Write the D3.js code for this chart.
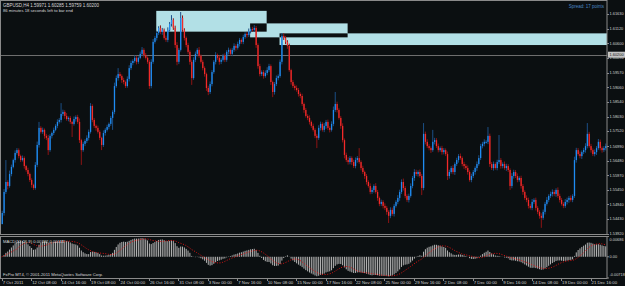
<!DOCTYPE html>
<html>
<head>
<meta charset="utf-8">
<script src="https://cdn.jsdelivr.net/npm/d3@7"></script>
<style>
  body { margin: 0; background: #0b0f11; }
  svg { display: block; }
  text { font-family: "Liberation Sans", Arial, sans-serif; }
</style>
</head>
<body>
<svg id="chart"></svg>
<script>
const W = 625, H = 286;

// GBPUSD H4 closes
const closes = [
  1.5464, 1.5538, 1.5573, 1.5559, 1.5601, 1.5626, 1.5650, 1.5675, 1.5685, 1.5664,
  1.5650, 1.5657, 1.5629, 1.5615, 1.5601, 1.5580, 1.5563, 1.5552, 1.5633, 1.5703,
  1.5763, 1.5749, 1.5756, 1.5735, 1.5728, 1.5685, 1.5735, 1.5745, 1.5756, 1.5770,
  1.5784, 1.5791, 1.5812, 1.5819, 1.5805, 1.5794, 1.5798, 1.5784, 1.5777, 1.5794,
  1.5801, 1.5784, 1.5720, 1.5685, 1.5707, 1.5717, 1.5728, 1.5749, 1.5840, 1.5791,
  1.5770, 1.5763, 1.5749, 1.5728, 1.5703, 1.5745, 1.5756, 1.5766, 1.5777, 1.5798,
  1.5819, 1.5910, 1.5938, 1.5952, 1.5945, 1.5931, 1.5924, 1.5910, 1.5935, 1.5973,
  1.5991, 1.5998, 1.6009, 1.5995, 1.6009, 1.6023, 1.6037, 1.6019, 1.6009, 1.5995,
  1.5910, 1.5995, 1.6065, 1.6079, 1.6096, 1.6114, 1.6100, 1.6107, 1.6079, 1.6072,
  1.6107, 1.6128, 1.6142, 1.6114, 1.6054, 1.5995, 1.6037, 1.6149, 1.6107, 1.6079,
  1.6054, 1.6030, 1.5995, 1.5938, 1.6002, 1.6023, 1.6037, 1.6016, 1.5995, 1.5973,
  1.5952, 1.5903, 1.5889, 1.5917, 1.5959, 1.5995, 1.6019, 1.6009, 1.5995, 1.6002,
  1.6016, 1.6002, 1.6030, 1.6037, 1.6023, 1.6037, 1.6051, 1.6044, 1.6058, 1.6072,
  1.6065, 1.6082, 1.6093, 1.6089, 1.6103, 1.6110, 1.6107, 1.6114, 1.6054, 1.5980,
  1.5952, 1.5959, 1.5945, 1.5956, 1.5966, 1.5980, 1.5924, 1.5889, 1.5917, 1.5938,
  1.5945, 1.5995, 1.6086, 1.6079, 1.6065, 1.6051, 1.5966, 1.5924, 1.5910, 1.5903,
  1.5896, 1.5882, 1.5875, 1.5847, 1.5826, 1.5805, 1.5798, 1.5784, 1.5770, 1.5756,
  1.5735, 1.5728, 1.5763, 1.5777, 1.5756, 1.5770, 1.5784, 1.5763, 1.5756, 1.5777,
  1.5826, 1.5847, 1.5826, 1.5798, 1.5770, 1.5720, 1.5668, 1.5650, 1.5643, 1.5657,
  1.5643, 1.5629, 1.5650, 1.5657, 1.5643, 1.5622, 1.5608, 1.5594, 1.5573, 1.5559,
  1.5538, 1.5545, 1.5559, 1.5538, 1.5517, 1.5496, 1.5503, 1.5489, 1.5482, 1.5468,
  1.5454, 1.5475, 1.5461, 1.5489, 1.5503, 1.5517, 1.5538, 1.5573, 1.5552, 1.5524,
  1.5510, 1.5524, 1.5559, 1.5587, 1.5608, 1.5601, 1.5608, 1.5594, 1.5552, 1.5742,
  1.5714, 1.5699, 1.5692, 1.5685, 1.5714, 1.5720, 1.5699, 1.5685, 1.5692, 1.5678,
  1.5685, 1.5671, 1.5594, 1.5608, 1.5622, 1.5608, 1.5636, 1.5650, 1.5664, 1.5657,
  1.5636, 1.5629, 1.5622, 1.5608, 1.5580, 1.5594, 1.5608, 1.5622, 1.5636, 1.5657,
  1.5699, 1.5707, 1.5714, 1.5714, 1.5735, 1.5636, 1.5622, 1.5636, 1.5622, 1.5643,
  1.5650, 1.5629, 1.5636, 1.5622, 1.5629, 1.5615, 1.5559, 1.5594, 1.5608, 1.5594,
  1.5580, 1.5587, 1.5559, 1.5538, 1.5517, 1.5510, 1.5489, 1.5482, 1.5503, 1.5510,
  1.5482, 1.5468, 1.5454, 1.5447, 1.5468, 1.5496, 1.5510, 1.5524, 1.5531, 1.5538,
  1.5531, 1.5545, 1.5524, 1.5510, 1.5496, 1.5489, 1.5503, 1.5510, 1.5517, 1.5510,
  1.5524, 1.5650, 1.5685, 1.5671, 1.5664, 1.5678, 1.5685, 1.5699, 1.5742, 1.5699,
  1.5685, 1.5671, 1.5678, 1.5692, 1.5714, 1.5692, 1.5685, 1.5692, 1.5699
];
const firstOpen = 1.5425;

// wick lengths above / below the body, in pips
const hiWick = [
  8, 10, 77, 6, 12, 8, 5, 9, 7, 6,   5, 9, 6, 4, 8, 5, 6, 4, 10, 12,
  21, 6, 8, 5, 7, 10, 6, 5, 8, 6,    9, 7, 38, 8, 6, 10, 5, 7, 4, 9,
  6, 8, 12, 5, 7, 6, 9, 8, 10, 6,    7, 5, 8, 6, 4, 9, 6, 8, 5, 7,
  6, 12, 9, 21, 7, 6, 8, 5, 9, 10,   8, 6, 9, 7, 5, 8, 10, 6, 7, 5,
  6, 9, 10, 7, 8, 6, 9, 7, 5, 8,     9, 7, 17, 6, 8, 10, 7, 21, 9, 6,
  5, 8, 6, 7, 9, 8, 6, 10, 5, 7,     6, 5, 8, 9, 7, 6, 10, 5, 8, 6,
  7, 9, 6, 8, 5, 7, 9, 6, 8, 7,      5, 8, 6, 7, 9, 6, 8, 10, 7, 6,
  8, 6, 7, 9, 10, 8, 6, 5, 7, 9,     6, 8, 10, 9, 7, 6, 8, 5, 7, 6,
  9, 7, 6, 8, 5, 7, 6, 9, 5, 8,      6, 7, 9, 8, 6, 10, 7, 8, 6, 9,
  12, 42, 8, 6, 7, 9, 6, 8, 10, 7,   6, 8, 9, 7, 35, 6, 8, 5, 7, 6,
  9, 8, 6, 10, 7, 5, 8, 6, 9, 7,     6, 9, 8, 7, 6, 10, 8, 9, 12, 7,
  6, 8, 9, 7, 10, 8, 6, 9, 7, 38,    8, 9, 7, 6, 42, 8, 7, 9, 6, 8,
  7, 6, 9, 8, 7, 10, 6, 8, 7, 9,     6, 8, 7, 9, 6, 8, 7, 6, 9, 10,
  8, 7, 9, 6, 31, 8, 7, 9, 6, 8,     88, 7, 6, 9, 8, 7, 6, 10, 8, 7,
  9, 6, 8, 7, 6, 9, 8, 7, 10, 6,     8, 7, 6, 9, 8, 7, 10, 6, 8, 9,
  7, 6, 9, 8, 7, 6, 10, 8, 7, 9,     6, 12, 8, 7, 9, 6, 8, 10, 38, 7,
  8, 6, 9, 7, 10, 8, 6, 7, 9
];
const loWick = [
  0, 9, 7, 12, 6, 8, 5, 9, 6, 8,     7, 5, 9, 6, 8, 7, 10, 7, 6, 8,
  9, 6, 7, 10, 8, 17, 6, 9, 7, 5,    8, 6, 9, 7, 10, 6, 8, 7, 46, 6,
  9, 7, 10, 52, 6, 8, 7, 9, 6, 8,    7, 10, 6, 8, 18, 7, 9, 6, 8, 7,
  42, 8, 6, 9, 7, 10, 8, 7, 6, 9,    7, 8, 6, 9, 7, 5, 8, 9, 6, 7,
  10, 8, 7, 6, 9, 7, 8, 10, 6, 7,    8, 6, 9, 7, 10, 12, 8, 6, 7, 9,
  8, 7, 10, 24, 6, 8, 9, 7, 6, 8,    9, 10, 11, 7, 8, 6, 9, 7, 10, 8,
  6, 8, 7, 9, 6, 8, 7, 10, 6, 9,     7, 8, 6, 9, 7, 8, 6, 7, 10, 9,
  8, 7, 9, 6, 8, 7, 10, 18, 9, 7,    8, 6, 9, 7, 8, 10, 6, 9, 7, 8,
  6, 9, 8, 7, 10, 6, 8, 9, 7, 6,     8, 36, 7, 9, 6, 8, 10, 7, 9, 6,
  8, 7, 9, 6, 10, 8, 12, 7, 9, 8,    10, 7, 8, 9, 6, 8, 7, 10, 9, 6,
  8, 7, 9, 6, 10, 8, 7, 9, 8, 10,    25, 8, 7, 9, 6, 8, 10, 7, 9, 8,
  7, 9, 6, 8, 10, 7, 9, 6, 25, 8,    9, 7, 8, 10, 6, 9, 7, 8, 6, 9,
  8, 7, 14, 9, 6, 8, 10, 7, 9, 6,    8, 10, 7, 9, 6, 8, 7, 9, 10, 6,
  7, 8, 9, 6, 8, 10, 7, 9, 6, 8,     7, 9, 8, 6, 10, 7, 14, 8, 9, 7,
  8, 6, 9, 10, 7, 8, 9, 6, 8, 7,     9, 8, 10, 35, 7, 9, 6, 8, 7, 9,
  8, 10, 7, 9, 6, 8, 7, 9, 10, 6,    8, 7, 9, 6, 8, 10, 7, 9, 8, 6,
  9, 7, 8, 10, 6, 8, 9, 7, 8
];

// price scale labels on the right
const priceTicks = [1.61630, 1.61120, 1.60600, 1.60090, 1.59570, 1.59060, 1.58540, 1.58030,
  1.57520, 1.56990, 1.56480, 1.55970, 1.55450, 1.54940, 1.54430, 1.53920];
const bidPrice = 1.60200;

// time labels, one every 16 bars
const timeLabels = ["7 Oct 2011", "12 Oct 08:00", "14 Oct 16:00", "19 Oct 08:00", "24 Oct 00:00",
  "26 Oct 16:00", "31 Oct 08:00", "3 Nov 00:00", "7 Nov 16:00", "10 Nov 08:00", "15 Nov 00:00",
  "17 Nov 16:00", "22 Nov 08:00", "25 Nov 00:00", "29 Nov 16:00", "2 Dec 08:00", "7 Dec 00:00",
  "9 Dec 16:00", "14 Dec 08:00", "19 Dec 00:00", "21 Dec 16:00"];
const timeLabelBars = d3.range(0, 321, 16);

// rectangle objects: [first bar, last bar, top price, bottom price]
const zones = [
  [84, 144, 1.6174, 1.6101],
  [135, 188, 1.6130, 1.6081],
  [151, 340, 1.6095, 1.6054]
];

// MACD subwindow scale labels
const macdTicks = [0.00686, 0, -0.00718];

const headerLine = "GBPUSD,H4  1.59971 1.60285 1.59759 1.60200";
const timerLine = "86 minutes 18 seconds left to bar end";
const spreadLine = "Spread: 17 points";
const macdLine = "MACD(12,26,9) 0.00332 0.00111";
const copyLine = "FxPro MT4, \u00a9 2001-2011 MetaQuotes Software Corp.";

const bg = "#0b0f11", frame = "#8a8a8a";
const axisX = 607, mainTop = 1, mainBottom = 234.5, subTop = 236, subBottom = 278;

const svg = d3.select("#chart").attr("width", W).attr("height", H);
svg.append("rect").attr("width", W).attr("height", H).attr("fill", bg);

const x = d3.scaleLinear().domain([0, 320]).range([1.7, 590.5]);
const y = d3.scaleLinear().domain([1.5443, 1.6163]).range([219, 14]);
const ym = d3.scaleLinear().domain([-0.00718, 0.00686]).range([subBottom, subTop + 0.5]);

const defs = svg.append("defs");
defs.append("clipPath").attr("id", "mainClip").append("rect")
  .attr("x", 1).attr("y", mainTop).attr("width", axisX - 1).attr("height", mainBottom - mainTop);
defs.append("clipPath").attr("id", "subClip").append("rect")
  .attr("x", 1).attr("y", subTop).attr("width", axisX - 1).attr("height", subBottom - subTop);

const main = svg.append("g").attr("clip-path", "url(#mainClip)");

// zones, overlapping parts drawn back in the background colour (MT4 xor look)
const zr = zones.map(z => ({ x0: x(z[0]), x1: Math.min(x(z[1]), axisX), y0: y(z[2]), y1: y(z[3]) }));
main.selectAll("rect.zone").data(zr).join("rect").attr("class", "zone")
  .attr("x", d => d.x0).attr("y", d => d.y0)
  .attr("width", d => d.x1 - d.x0).attr("height", d => d.y1 - d.y0)
  .attr("fill", "#b2e0e6");
const overlaps = [];
zr.forEach((a, i) => zr.slice(i + 1).forEach(b => {
  const x0 = Math.max(a.x0, b.x0), x1 = Math.min(a.x1, b.x1);
  const y0 = Math.max(a.y0, b.y0), y1 = Math.min(a.y1, b.y1);
  if (x1 > x0 && y1 > y0) overlaps.push({ x0, x1, y0, y1 });
}));
main.selectAll("rect.overlap").data(overlaps).join("rect").attr("class", "overlap")
  .attr("x", d => d.x0).attr("y", d => d.y0)
  .attr("width", d => d.x1 - d.x0).attr("height", d => d.y1 - d.y0)
  .attr("fill", bg);

// bid line
main.append("line").attr("x1", 0).attr("x2", axisX)
  .attr("y1", Math.round(y(bidPrice)) + 0.5).attr("y2", Math.round(y(bidPrice)) + 0.5)
  .attr("stroke", "#6e6e6e").attr("stroke-width", 1);

// candles
const bars = closes.map((c, i) => {
  const o = i ? closes[i - 1] : firstOpen;
  return { i, o, c, h: Math.max(o, c) + hiWick[i] * 1e-4, l: Math.min(o, c) - loWick[i] * 1e-4 };
});
const upCol = "#1f8cf2", dnCol = "#f22a2a";
main.selectAll("line.wick").data(bars).join("line").attr("class", "wick")
  .attr("x1", d => x(d.i) + 0.5).attr("x2", d => x(d.i) + 0.5)
  .attr("y1", d => y(d.h)).attr("y2", d => y(d.l))
  .attr("stroke", d => d.c >= d.o ? "#1b4f86" : "#8c1414").attr("stroke-width", 1);
main.selectAll("rect.body").data(bars).join("rect").attr("class", "body")
  .attr("x", d => x(d.i) - 0.1).attr("width", 1.3)
  .attr("y", d => y(Math.max(d.o, d.c)))
  .attr("height", d => Math.max(1, Math.abs(y(d.o) - y(d.c))))
  .attr("fill", d => d.c >= d.o ? upCol : dnCol);

// MACD(12,26,9) from the closes: main = EMA12 - EMA26, signal = SMA9 of main
function ema(arr, p) {
  const k = 2 / (p + 1);
  let e = arr[0];
  return arr.map((v, i) => (i ? (e = v * k + e * (1 - k)) : e));
}
const e12 = ema(closes, 12), e26 = ema(closes, 26);
const macd = closes.map((_, i) => e12[i] - e26[i]);
const signal = macd.map((_, i) => d3.mean(macd.slice(Math.max(0, i - 8), i + 1)));

const sub = svg.append("g").attr("clip-path", "url(#subClip)");
sub.selectAll("line.hist").data(macd).join("line").attr("class", "hist")
  .attr("x1", (d, i) => x(i) + 0.5).attr("x2", (d, i) => x(i) + 0.5)
  .attr("y1", ym(0)).attr("y2", d => ym(d))
  .attr("stroke", "#b4b4b4").attr("stroke-width", 1);
sub.append("path").datum(signal)
  .attr("d", d3.line().x((d, i) => x(i)).y(d => ym(d)))
  .attr("fill", "none").attr("stroke", "#e01414").attr("stroke-width", 1)
  .attr("stroke-dasharray", "1,1.6");

// frames
svg.append("rect").attr("x", 0.5).attr("y", 0.5).attr("width", axisX - 0.5).attr("height", mainBottom - 0.5)
  .attr("fill", "none").attr("stroke", frame);
svg.append("rect").attr("x", 0.5).attr("y", subTop + 0.5).attr("width", axisX - 0.5).attr("height", subBottom - subTop)
  .attr("fill", "none").attr("stroke", frame);

// price axis
const labelSize = 3.9;
const pa = svg.append("g");
pa.selectAll("line").data(priceTicks).join("line")
  .attr("x1", axisX).attr("x2", axisX + 2)
  .attr("y1", d => Math.round(y(d)) + 0.5).attr("y2", d => Math.round(y(d)) + 0.5)
  .attr("stroke", frame);
pa.selectAll("text").data(priceTicks).join("text")
  .attr("x", axisX + 2.5).attr("y", d => y(d)).attr("dy", "0.36em")
  .attr("font-size", labelSize).attr("fill", "#d2d2d2")
  .text(d => d.toFixed(5));
const bidY = y(bidPrice);
pa.append("rect").attr("x", axisX + 1).attr("y", bidY - 3).attr("width", W - axisX).attr("height", 6)
  .attr("fill", "#c4c4c4");
pa.append("text").attr("x", axisX + 2.5).attr("y", bidY).attr("dy", "0.36em")
  .attr("font-size", labelSize).attr("fill", "#111").text(bidPrice.toFixed(5));

// MACD axis
const ma = svg.append("g");
ma.selectAll("line").data(macdTicks).join("line")
  .attr("x1", axisX).attr("x2", axisX + 2)
  .attr("y1", d => ym(d)).attr("y2", d => ym(d)).attr("stroke", frame);
ma.selectAll("text").data(macdTicks).join("text")
  .attr("x", axisX + 2.5)
  .attr("y", d => Math.min(Math.max(ym(d), subTop + 4), subBottom - 3)).attr("dy", "0.36em")
  .attr("font-size", labelSize).attr("fill", "#d2d2d2")
  .text(d => (d === 0 ? "0.00" : d.toFixed(5)));

// time axis
const ta = svg.append("g");
ta.selectAll("line").data(timeLabelBars).join("line")
  .attr("x1", d => Math.round(x(d)) + 0.5).attr("x2", d => Math.round(x(d)) + 0.5)
  .attr("y1", subBottom).attr("y2", subBottom + 3).attr("stroke", frame);
ta.selectAll("text").data(timeLabels).join("text")
  .attr("x", (d, i) => x(timeLabelBars[i]) + 1).attr("y", 284)
  .attr("font-size", 4.3).attr("fill", "#d2d2d2")
  .text(d => d);

// text overlays
svg.append("text").attr("x", 3).attr("y", 6.5).attr("font-size", 4.5).attr("fill", "#d8d8d8").text(headerLine);
svg.append("text").attr("x", 3).attr("y", 11.5).attr("font-size", 4.2).attr("fill", "#d8d8d8").text(timerLine);
svg.append("text").attr("x", 604).attr("y", 8).attr("text-anchor", "end").attr("font-size", 4.5)
  .attr("fill", "#4a86c4").text(spreadLine);
svg.append("text").attr("x", 3).attr("y", 243).attr("font-size", 4.2).attr("fill", "#d8d8d8").text(macdLine);
svg.append("text").attr("x", 3).attr("y", 275.5).attr("font-size", 4.2).attr("fill", "#d8d8d8").text(copyLine);
</script>
</body>
</html>
